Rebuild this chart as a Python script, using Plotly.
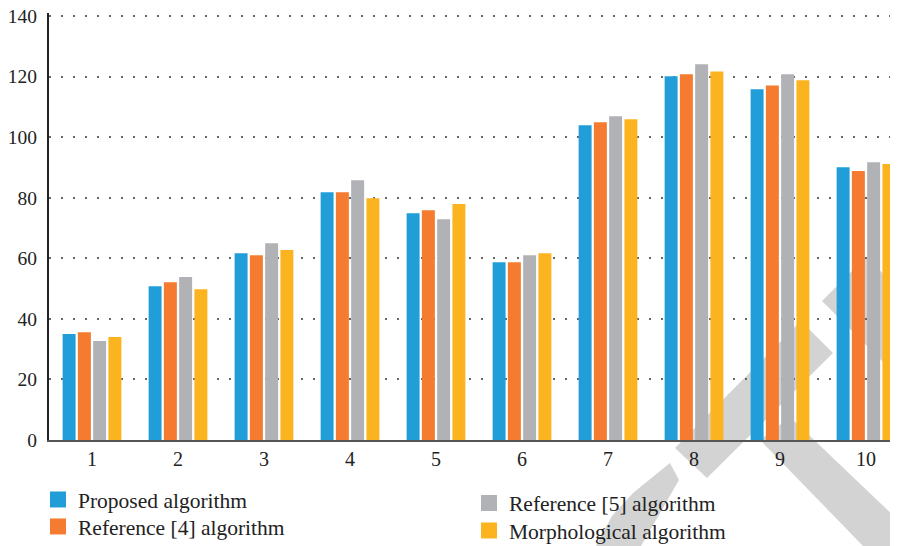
import plotly.graph_objects as go

categories = [1, 2, 3, 4, 5, 6, 7, 8, 9, 10]
series_names = ["Proposed algorithm", "Reference [4] algorithm",
                "Reference [5] algorithm", "Morphological algorithm"]
proposed = [35.0, 50.8, 61.7, 81.8, 74.9, 58.7, 103.9, 120.1, 115.8, 90.1]
reference4 = [35.6, 52.1, 61.0, 81.8, 75.9, 58.7, 104.9, 120.8, 117.1, 88.8]
reference5 = [32.7, 53.8, 65.0, 85.8, 72.9, 61.0, 106.9, 124.1, 120.8, 91.7]
morphological = [34.0, 49.8, 62.7, 79.8, 77.9, 61.7, 105.9, 121.7, 118.8, 91.1]
y_ticks = [0, 20, 40, 60, 80, 100, 120, 140]

colors = ["#219ED8", "#F47B2F", "#B1B2B6", "#FBB41F"]
values = [proposed, reference4, reference5, morphological]

FONT = "Liberation Serif"
# the page body adds an 8px margin, so the figure is drawn 8px right/down
OFF = 8
W, H = 898 - OFF, 546 - OFF
Y_TOP = 141.0
PX_PER_UNIT = (440 - 16) / 140.0
L = 49 - OFF
PLOT_BOTTOM = 440 - OFF
T = PLOT_BOTTOM - Y_TOP * PX_PER_UNIT
B = H - PLOT_BOTTOM
PW, PH = W - L, PLOT_BOTTOM - T

def px_x(x):  # screen pixel -> paper
    return (x - OFF - L) / PW

def px_y(y):
    return (PLOT_BOTTOM - (y - OFF)) / PH

fig = go.Figure()
for name, vals, col in zip(series_names, values, colors):
    fig.add_trace(go.Bar(x=categories, y=vals, name=name, marker_color=col,
                         marker_line_width=0, showlegend=False))

legend_ids = ["legend", "legend2", "legend3", "legend4"]
legend_pos = [(38, 479), (38, 506), (469, 482.5), (469, 510)]
for name, col, lg in zip(series_names, colors, legend_ids):
    fig.add_trace(go.Scatter(x=[None], y=[None], mode="markers", name=name,
                             marker=dict(symbol="square", size=17, color=col),
                             legend=lg, showlegend=True))

legend_layout = {}
for lg, (lx, ly) in zip(legend_ids, legend_pos):
    legend_layout[lg] = dict(x=px_x(lx), y=px_y(ly), xanchor="left", yanchor="top",
                             bgcolor="rgba(255,255,255,0)", borderwidth=0,
                             font=dict(family=FONT, size=21.5, color="#222"),
                             itemclick=False, itemdoubleclick=False)

def path(pts):
    return "M " + " L ".join(f"{px_x(x):.4f} {px_y(y):.4f}" for x, y in pts) + " Z"

# light grey watermark behind the chart
# (the arc includes a zero-area spike up to the axis so its extent touches the plot)
wm_polys = [
    [(596, 546), (612, 516), (633, 493), (670, 463), (670, 438), (670, 463),
     (679, 480), (660, 513), (641, 546)],
    [(675, 448), (707, 478), (833, 353), (801, 321)],
    [(822, 301), (866, 257), (898, 288), (898, 377)],
    [(760, 440), (790, 417), (898, 520), (898, 546), (863, 546)],
]
shapes = [dict(type="path", xref="paper", yref="paper", path=path(p),
               fillcolor="#D3D3D3", line=dict(width=0), layer="below") for p in wm_polys]

fig.update_layout(
    width=W, height=H,
    margin=dict(l=L, r=0, t=T, b=B, autoexpand=False),
    paper_bgcolor="rgba(255,255,255,0)", plot_bgcolor="rgba(255,255,255,0)",
    barmode="group", bargap=0.29, bargroupgap=0.15,
    font=dict(family=FONT, size=20, color="#222"),
    shapes=shapes,
    **legend_layout,
)
fig.update_xaxes(range=[0.5, 10.372], tickvals=categories, ticktext=[str(c) for c in categories],
                 showgrid=False, zeroline=False, showline=True, linecolor="#555", linewidth=2,
                 ticks="", automargin=False, ticklabeloverflow="allow",
                 tickfont=dict(family=FONT, size=20, color="#222"))
fig.update_yaxes(range=[0, Y_TOP], tickvals=y_ticks, showgrid=True, gridcolor="#666",
                 gridwidth=1.5, griddash="2px,10px", zeroline=False, showline=True,
                 linecolor="#222", linewidth=2, ticks="", ticklabelstandoff=6, automargin=False,
                 ticklabeloverflow="allow",
                 tickfont=dict(family=FONT, size=19.5, color="#222"))

fig.write_html("out.html")
